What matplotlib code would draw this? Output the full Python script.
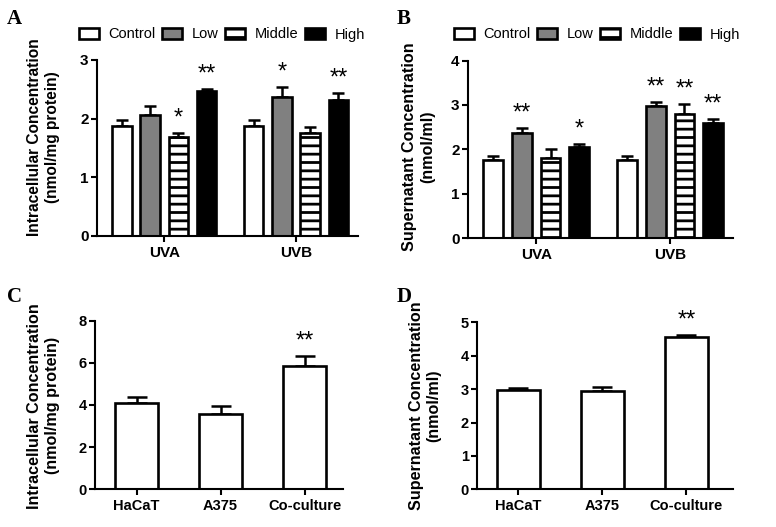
import numpy as np
import matplotlib
matplotlib.use("Agg")
import matplotlib.pyplot as plt
from matplotlib.patches import Patch

# fonts / style
plt.rcParams['font.family'] = ['Liberation Sans', 'DejaVu Sans']
plt.rcParams['hatch.linewidth'] = 2.0

# ---------------- data ----------------
groups = ["UVA", "UVB"]
doses = ["Control", "Low", "Middle", "High"]

# panel A - intracellular (nmol/mg protein), rows = dose, cols = UVA/UVB
a_mean = [[1.87, 1.87], [2.06, 2.37], [1.68, 1.76], [2.47, 2.31]]
a_err = [[0.10, 0.10], [0.15, 0.17], [0.07, 0.10], [0.04, 0.12]]
a_star = [["", ""], ["", "*"], ["*", ""], ["**", "**"]]

# panel B - supernatant (nmol/ml)
b_mean = [[1.76, 1.76], [2.36, 2.97], [1.81, 2.80], [2.04, 2.59]]
b_err = [[0.09, 0.09], [0.13, 0.10], [0.19, 0.21], [0.07, 0.09]]
b_star = [["", ""], ["**", "**"], ["", "**"], ["*", "**"]]

cells = ["HaCaT", "A375", "Co-culture"]
c_mean = [4.08, 3.58, 5.84]
c_err = [0.31, 0.39, 0.50]
c_star = ["", "", "**"]

d_mean = [2.97, 2.95, 4.55]
d_err = [0.06, 0.12, 0.06]
d_star = ["", "", "**"]

# ---------------- styles ----------------
face = ["white", "#808080", "white", "black"]
hatch = [None, None, "--", None]
EDGE_LW = 1.9
STAR_SIZE = 17


def style_axes(ax, ymax, ystep, tick_size):
    ax.set_ylim(0, ymax)
    ax.set_yticks(np.arange(0, ymax + 0.01, ystep))
    for s in ["top", "right"]:
        ax.spines[s].set_visible(False)
    for s in ["left", "bottom"]:
        ax.spines[s].set_linewidth(1.5)
    ax.tick_params(axis="y", length=4, width=1.5, labelsize=tick_size, pad=2)
    ax.tick_params(axis="x", length=4, width=1.5, labelsize=tick_size, pad=3)
    for lab in ax.get_xticklabels() + ax.get_yticklabels():
        lab.set_fontweight("bold")


def add_star(ax, x, top, txt):
    if txt:
        ax.annotate(txt, (x, top), xytext=(0, 2.5), textcoords="offset points",
                    ha="center", va="bottom", fontsize=STAR_SIZE)


def grouped(ax, means, errs, stars):
    x = np.arange(len(groups))
    pitch = 0.214
    w = 0.147
    for i in range(len(doses)):
        xs = x + (i - 1.5) * pitch
        ax.bar(xs, means[i], w, color=face[i], edgecolor="black",
               linewidth=EDGE_LW, hatch=hatch[i], zorder=2)
        ax.errorbar(xs, means[i], yerr=[np.zeros(len(groups)), errs[i]],
                    fmt="none", ecolor="black", elinewidth=1.8, capsize=4.5,
                    capthick=1.8, zorder=1)
        for j in range(len(groups)):
            add_star(ax, xs[j], means[i][j] + errs[i][j], stars[i][j])
    ax.set_xticks(x)
    ax.set_xticklabels(groups)
    ax.set_xlim(-0.51, 1.47)


def single(ax, means, errs, stars):
    x = np.arange(len(cells))
    ax.bar(x, means, 0.51, color="white", edgecolor="black",
           linewidth=EDGE_LW, zorder=2)
    ax.errorbar(x, means, yerr=[np.zeros(len(cells)), errs], fmt="none",
                ecolor="black", elinewidth=1.8, capsize=7, capthick=1.8,
                zorder=1)
    for j in range(len(cells)):
        add_star(ax, x[j], means[j] + errs[j], stars[j])
    ax.set_xticks(x)
    ax.set_xticklabels(cells)


W, H = 776, 527
fig = plt.figure(figsize=(W / 100, H / 100), dpi=100)


def box(l, r, t, b):
    return [l / W, 1 - b / H, (r - l) / W, (b - t) / H]


axA = fig.add_axes(box(97, 358, 60, 236))
axB = fig.add_axes(box(468, 733, 60.5, 238))
axC = fig.add_axes(box(95, 343, 320.7, 489.3))
axD = fig.add_axes(box(477, 733, 322.3, 489.3))

grouped(axA, a_mean, a_err, a_star)
style_axes(axA, 3, 1, 11)
axA.set_ylabel("Intracellular Concentration\n(nmol/mg protein)",
               fontsize=11.2, fontweight="bold", linespacing=1.25)
axA.yaxis.set_label_coords(-0.142, 0.56)

grouped(axB, b_mean, b_err, b_star)
style_axes(axB, 4, 1, 11)
axB.set_ylabel("Supernatant Concentration\n(nmol/ml)",
               fontsize=11.6, fontweight="bold", linespacing=1.25)
axB.yaxis.set_label_coords(-0.125, 0.514)

single(axC, c_mean, c_err, c_star)
axC.set_xlim(-0.494, 2.458)
style_axes(axC, 8, 2, 10.5)
axC.set_ylabel("Intracellular Concentration\n(nmol/mg protein)",
               fontsize=11.6, fontweight="bold", linespacing=1.25)
axC.yaxis.set_label_coords(-0.141, 0.495)

single(axD, d_mean, d_err, d_star)
axD.set_xlim(-0.494, 2.554)
style_axes(axD, 5, 1, 10.5)
axD.set_ylabel("Supernatant Concentration\n(nmol/ml)",
               fontsize=11.6, fontweight="bold", linespacing=1.25)
axD.yaxis.set_label_coords(-0.138, 0.5)

# legends
handles = [Patch(facecolor=face[i], edgecolor="black", linewidth=EDGE_LW,
                 hatch=hatch[i], label=doses[i]) for i in range(len(doses))]
for x0 in [79, 454]:
    fig.legend(handles=handles, loc="center left",
               bbox_to_anchor=(x0 / W, 1 - 34.5 / H), ncol=4, frameon=False,
               fontsize=10.5, handlelength=1.37, handleheight=0.75,
               handletextpad=0.66, columnspacing=0.45, borderpad=0,
               borderaxespad=0)

# panel letters
for letter, x0, y0 in [("A", 7, 24), ("B", 397, 24), ("C", 7, 302), ("D", 397, 302)]:
    fig.text(x0 / W, 1 - y0 / H, letter, fontsize=15, fontweight="bold",
             family="Liberation Serif", va="baseline")

fig.savefig("out.png", dpi=100)
